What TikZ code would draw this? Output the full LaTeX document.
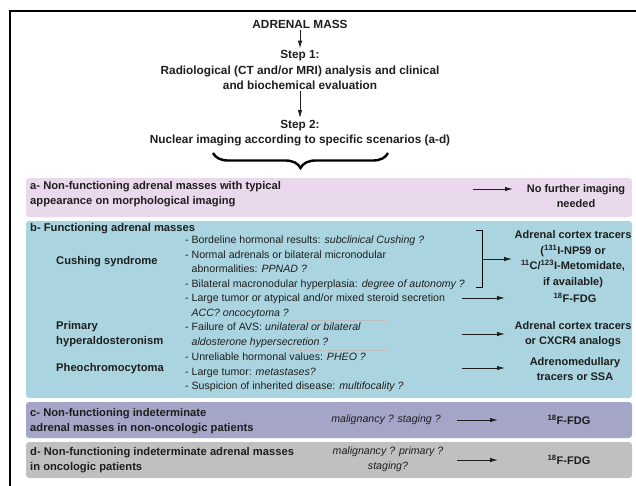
\documentclass[tikz,border=0pt]{standalone}
\usepackage{fontspec}
\setmainfont{Liberation Sans}
\usetikzlibrary{positioning}
\usetikzlibrary{arrows.meta}
\usetikzlibrary{decorations.pathreplacing}
\definecolor{pinkbox}{RGB}{234,216,236}
\definecolor{bluebox}{RGB}{170,213,224}
\definecolor{violetbox}{RGB}{165,165,200}
\definecolor{greybox}{RGB}{192,192,192}
\definecolor{inktext}{RGB}{30,30,30}
\tikzset{
	title/.style={font=\fontsize{11.8}{15.5}\selectfont\bfseries, align=center, inner sep=1.5pt, text=inktext},
	group/.style={font=\fontsize{11.2}{15}\selectfont\bfseries, align=left, anchor=north west, inner sep=0pt, text=inktext},
	item/.style={font=\fontsize{10.6}{14.5}\selectfont, align=left, anchor=north west, inner sep=0pt, text=inktext},
	result/.style={font=\fontsize{11}{15.5}\selectfont\bfseries, align=center, inner sep=0pt, text=inktext},
	panel/.style={rounded corners=3pt},
	% thin rule between the groups of box b
	sep/.style={draw=black!25, line width=0.7pt},
}

\begin{document}
\begin{tikzpicture}[x=1pt, y=-1pt]
	\useasboundingbox (0,0) rectangle (636,485);
	
	\draw[line width=2.2pt] (10,487) -- (10,11) -- (638,11);
	
	\fill[pinkbox, panel] (26,178) rectangle (632,217);
	\fill[bluebox, panel] (26,221) rectangle (632,398);
	\fill[violetbox, panel] (26,402) rectangle (632,438);
	\fill[greybox, panel] (26,442) rectangle (632,478);
	
	\node (mass) [title] at (300,24) {ADRENAL MASS};
	
	\node (step1) [title] at (300,70) {Step 1:\\Radiological (CT and/or MRI) analysis and clinical\\and biochemical evaluation};
	
	\node (step2) [title] at (300,133) {Step 2:\\Nuclear imaging according to specific scenarios (a-d)};
	
	\draw[decorate, decoration={brace, amplitude=15pt}, line width=2.4pt] (388,153) -- (213,153);
	
	% a
	\node (adesc) [group] at (30,181) {a- Non-functioning adrenal masses with typical\\appearance on morphological imaging};
	\node (ares) [result] at (576,196) {No further imaging\\needed};
	\coordinate (afrom) at (473,189);
	\coordinate (ato) at (513,189);
	
	% b
	\node (bdesc) [group, anchor=west] at (30,229) {b- Functioning adrenal masses};
	
	\node (cushing) [group, anchor=west] at (56,262) {Cushing syndrome};
	\node (cushitems) [item] at (185,236) {- Bordeline hormonal results: \textit{subclinical Cushing ?}\\- Normal adrenals or bilateral micronodular\\\hphantom{- }abnormalities: \textit{PPNAD ?}\\- Bilateral macronodular hyperplasia: \textit{degree of autonomy ?}\\- Large tumor or atypical and/or mixed steroid secretion\\\hphantom{- }\textit{ACC? oncocytoma ?}};
	\coordinate (brtop) at (482,230);
	\coordinate (brbot) at (482,287);
	\coordinate (brmid) at (482,259);
	\node (cortex) [result] at (573,259) {Adrenal cortex tracers\\(\textsuperscript{131}I-NP59 or\\\textsuperscript{11}C/\textsuperscript{123}I-Metomidate,\\if available)};
	\coordinate (fdgfrom) at (462,298);
	\node (fdgb) [result] at (575,298) {\textsuperscript{18}F-FDG};
	
	\draw[sep] (290,320) -- (387,320);
	
	\node (primary) [group, anchor=west] at (56,334) {Primary\\hyperaldosteronism};
	\node (primitems) [item] at (185,323) {- Failure of AVS: \textit{unilateral or bilateral}\\\hphantom{- }\textit{aldosterone hypersecretion ?}};
	\coordinate (primfrom) at (462,334);
	\node (cxcr) [result] at (573,334) {Adrenal cortex tracers\\or CXCR4 analogs};
	
	\draw[sep] (290,350) -- (387,350);
	
	\node (pheo) [group, anchor=west] at (56,369) {Pheochromocytoma};
	\node (pheoitems) [item] at (185,353) {- Unreliable hormonal values: \textit{PHEO ?}\\- Large tumor: \textit{metastases?}\\- Suspicion of inherited disease: \textit{multifocality ?}};
	\coordinate (pheofrom) at (462,368);
	\node (medul) [result] at (575,369) {Adrenomedullary\\tracers or SSA};
	
	% c
	\node (cdesc) [group] at (30,408) {c- Non-functioning indeterminate\\adrenal masses in non-oncologic patients};
	\node (cquest) [item, anchor=center] at (386,420) {\textit{malignancy ? staging ?}};
	\coordinate (cfrom) at (457,420);
	\node (fdgc) [result] at (569,420) {\textsuperscript{18}F-FDG};
	
	% d
	\node (ddesc) [group] at (30,447) {d- Non-functioning indeterminate adrenal masses\\in oncologic patients};
	\node (dquest) [item, anchor=center, align=center] at (388,459) {\textit{malignancy ? primary ?}\\\textit{staging?}};
	\coordinate (dfrom) at (457,460);
	\node (fdgd) [result] at (569,460) {\textsuperscript{18}F-FDG};
	
	\draw[line width=1pt] ([xshift=-6pt]brtop) -- (brtop) -- (brbot) -- ([xshift=-6pt]brbot);
	
	\begin{scope}[line width=1pt, inktext, ->, >={Latex[length=8pt, width=4.5pt]}]
		\draw (mass) -- (step1);
		\draw (step1) -- (step2);
		\draw (afrom) -- (ato);
		\draw (brmid) -- ++(30,0);
		\draw (fdgfrom) -- ++(43,0);
		\draw (primfrom) -- ++(43,0);
		\draw (pheofrom) -- ++(43,0);
		\draw (cfrom) -- ++(41,0);
		\draw (dfrom) -- ++(41,0);
	\end{scope}
\end{tikzpicture}
\end{document}
